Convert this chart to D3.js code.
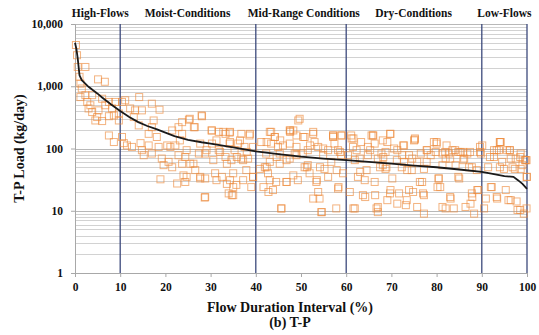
<!DOCTYPE html>
<html>
<head>
<meta charset="utf-8">
<script src="https://cdn.jsdelivr.net/npm/d3@7"></script>
<style>
  body { margin: 0; background: #fff; }
  svg text { font-family: "Liberation Serif", "Times New Roman", serif; font-weight: bold; fill: #111; }
</style>
</head>
<body>
<svg id="chart" width="539" height="335"></svg>
<script>
// flow duration (%) and load (kg/day) of the load duration curve
const curveDuration = [0, 0.3, 0.6, 1, 1.5, 2, 3, 4, 5, 6, 7, 8, 10, 12, 14, 16, 18, 20, 22, 25, 28, 30, 35, 40, 45, 50, 55, 60, 65, 70, 75, 80, 85, 90, 93, 95, 97, 98, 99, 100];
const curveLoad = [5000, 4000, 2800, 1500, 1250, 1150, 980, 860, 760, 660, 580, 510, 400, 320, 265, 230, 205, 180, 158, 138, 126, 120, 104, 90, 81, 74, 69, 65, 61, 57, 53, 50, 46, 42, 38.5, 36, 35, 31, 27, 22.5];

// observed samples: [flow duration %, load kg/day]
const samples = [
  [0.2, 4600], [0.45, 3150], [0.6, 2040], [2.3, 2040], [1.0, 1420], [5.1, 1290], [6.6, 1180],
  [1.5, 920], [2.3, 720], [1.2, 670], [3.8, 720], [6.0, 630], [7.5, 560], [8.9, 560], [10.4, 560],
  [11.1, 595], [14.2, 670], [3.0, 440], [3.8, 385], [5.2, 410], [6.7, 495], [2.7, 560], [4.5, 282],
  [6.0, 276], [7.5, 330], [8.6, 340], [9.7, 365], [12.2, 440], [13.3, 410], [14.8, 410], [13.0, 320],
  [17.0, 525], [18.7, 420], [17.4, 282], [17.0, 220], [16.3, 172], [18.1, 153], [14.1, 235],
  [7.5, 162], [8.6, 127], [10.4, 153], [10.8, 122], [11.5, 112], [12.6, 106], [14.5, 122], [14.8, 94],
  [16.3, 112], [15.2, 78], [17.0, 83], [18.5, 106], [20.4, 112], [21.1, 106], [22.2, 112], [21.5, 195],
  [22.9, 220], [23.7, 265], [25.2, 290], [26.3, 220], [28.1, 330], [23.7, 172], [19.2, 69], [20.7, 61],
  [19.6, 54], [21.5, 50], [22.9, 78], [24.4, 73], [25.5, 57], [23.7, 57], [18.9, 32], [22.6, 27.4],
  [24.4, 29], [24.0, 37], [26.6, 45], [27.7, 35], [28.8, 33], [28.7, 16.3], [27.4, 83], [28.8, 83],
  [30.3, 195], [31.8, 185], [33.3, 172], [30.3, 120], [31.8, 94], [33.3, 73], [31.0, 40], [32.5, 35],
  [33.6, 27], [34.0, 19], [1.2, 1100], [3.4, 495], [8.2, 440], [9.7, 282], [4.9, 320],
  [34.2, 180], [34.2, 120], [34.6, 65], [35.0, 40], [35.0, 17.8], [35.7, 26], [36.8, 172], [38.6, 162],
  [36.1, 120], [37.5, 106], [36.8, 69], [38.3, 69], [37.9, 45], [37.2, 31], [39.4, 35], [39.0, 24],
  [40.9, 47], [41.2, 127], [42.3, 83], [43.4, 185], [44.2, 153], [43.4, 120], [43.1, 61], [42.7, 40],
  [43.8, 21.5], [44.5, 29], [45.6, 10.9], [45.3, 57], [45.3, 83], [46.8, 29], [46.0, 112], [47.5, 195],
  [47.5, 120], [49.0, 162], [49.7, 300], [49.3, 31], [48.6, 83], [50.8, 153], [50.4, 83], [51.5, 54],
  [51.9, 40], [52.7, 172], [53.0, 127], [53.4, 29], [52.7, 15.7], [54.1, 15.7], [54.5, 9.5], [53.8, 20],
  [54.9, 78], [55.2, 47], [56.0, 35], [57.1, 162], [57.4, 120], [56.7, 61], [57.8, 10.9], [58.2, 22.7],
  [58.9, 162], [58.9, 78], [59.3, 40], [61.1, 162], [61.5, 106], [61.9, 10.9], [62.6, 35], [63.3, 127],
  [63.0, 69], [64.1, 31], [63.7, 17.8], [64.8, 78], [65.9, 162], [66.3, 120], [67.0, 11.5], [66.3, 29],
  [68.1, 135], [68.1, 54], [67.8, 83], [67.0, 9.5],
  [35.3, 94], [39.4, 106], [44.9, 106], [47.5, 69], [51.5, 94], [53.8, 106], [56.0, 94], [58.2, 94],
  [60.4, 78], [61.9, 65], [64.8, 106], [67.0, 69], [68.9, 50], [50.8, 50], [42.0, 50],
  [69.8, 172], [69.1, 127], [70.6, 100], [68.7, 88], [68.7, 47], [70.2, 33], [69.8, 21.5], [69.1, 14.8],
  [71.7, 19], [71.3, 13], [72.8, 112], [72.4, 78], [73.5, 45], [73.9, 21.5], [73.2, 12.3], [75.0, 135],
  [74.6, 69], [76.5, 83], [76.8, 29], [75.7, 11.5], [77.2, 9], [77.2, 17.8], [77.9, 94], [79.4, 127],
  [79.8, 88], [80.5, 33], [80.2, 24], [81.3, 54], [81.3, 11.5], [82.0, 10.9], [82.7, 83], [83.1, 15.7],
  [83.8, 10.9], [85.0, 33], [85.3, 88], [86.1, 69], [86.4, 11.5], [87.5, 13], [87.9, 16.6], [88.3, 9],
  [89.0, 21.5], [90.1, 112], [89.8, 83], [90.9, 15.7], [90.5, 10.9], [92.0, 24], [92.7, 73], [94.2, 127],
  [93.8, 94], [93.4, 15.7], [95.6, 94], [95.3, 21.5], [96.4, 69], [96.4, 14.8], [96.8, 50], [97.9, 10.3],
  [98.6, 83], [98.6, 47], [99.3, 9], [99.7, 65], [100, 35], [99.9, 10.9],
  [71.3, 94], [73.9, 78], [75.7, 61], [78.7, 78], [82.0, 69], [83.5, 94], [84.2, 54], [86.8, 83],
  [87.2, 50], [92.7, 94], [94.5, 61], [97.5, 69], [99.0, 54], [94.9, 47], [81.3, 83], [77.2, 47], [72.8, 61],
  [44.2, 153], [47.6, 185], [50.5, 153], [52.7, 185], [57.1, 162], [59.0, 162], [61.2, 145], [65.6, 162],
  [69.7, 172], [72.6, 112], [75.2, 145], [77.8, 94], [80.0, 120], [81.9, 88], [84.1, 94], [85.9, 88],
  [89.6, 106], [91.8, 73], [94.0, 127], [96.2, 94], [98.5, 73], [99.6, 65],
  [75.2, 139], [80.0, 127], [82.2, 112], [94.0, 127], [93.3, 94], [96.2, 94], [99.9, 65], [99.9, 35],
  [97.3, 47], [94.0, 50], [91.4, 50], [89.6, 88], [87.4, 88], [84.8, 88], [84.8, 35], [80.4, 33],
  [80.8, 24], [76.3, 29], [74.8, 20], [77.0, 19], [73.4, 14.8], [83.0, 16.6], [87.8, 19], [89.2, 21.5],
  [92.2, 24], [93.3, 16.6], [95.9, 14.8], [97.7, 14.1], [98.5, 10.3], [72.3, 50], [74.5, 45], [77.8, 61],
  [83.0, 69], [85.9, 65], [87.8, 50], [88.9, 45],
  [48.3, 195], [57.1, 153], [61.6, 145], [66.0, 162], [49.0, 106], [52.0, 112], [54.9, 100], [58.6, 88],
  [62.3, 94], [65.3, 94], [68.2, 73], [71.2, 65], [51.3, 50], [54.2, 50], [57.9, 45], [63.1, 42],
  [64.5, 45], [67.5, 50], [48.3, 37], [53.5, 31], [58.3, 24], [60.8, 20], [64.2, 16.6], [66.4, 17.8],
  [69.7, 19], [54.6, 9.5], [61.6, 10.9], [66.7, 10.9],
  [28.0, 340], [25.4, 300], [26.5, 220], [30.2, 195], [32.8, 185], [34.3, 185], [38.7, 172], [43.1, 185],
  [47.6, 195], [49.4, 282], [23.2, 135], [27.7, 120], [31.3, 135], [34.3, 127], [36.5, 135], [42.4, 127],
  [45.4, 135], [24.7, 94], [29.1, 94], [32.1, 88], [35.8, 73], [38.0, 88], [44.6, 73], [46.8, 65],
  [49.0, 78], [26.2, 57], [30.6, 65], [33.6, 57], [37.2, 65], [42.4, 50], [24.7, 35], [27.7, 33],
  [31.3, 31], [34.3, 31], [39.4, 35], [43.1, 31], [46.8, 29], [35.0, 24], [41.7, 24], [42.8, 20],
  [28.8, 16.6], [34.7, 17.8], [45.7, 10.9]
];

const xTicks = [0, 10, 20, 30, 40, 50, 60, 70, 80, 90, 100];
const yTicks = [1, 10, 100, 1000, 10000];
const zoneBreaks = [10, 40, 60, 90, 100];
const zoneLabels = ['High-Flows', 'Moist-Conditions', 'Mid-Range Conditions', 'Dry-Conditions', 'Low-Flows'];
const zoneLabelAt = [5.6, 24.9, 50.6, 74.9, 95];

const svg = d3.select('#chart');
const x = d3.scaleLinear().domain([0, 100]).range([75, 527]);
const y = d3.scaleLog().domain([1, 10000]).range([273, 24]);

// log gridlines
const gridVals = [];
yTicks.slice(0, -1).forEach((d) => {
    for (let k = 1; k < 10; k++) gridVals.push(d * k);
});
gridVals.push(10000);

svg.append('g').attr('class', 'grid')
    .selectAll('line')
    .data(gridVals.filter(v => v > 1))
    .join('line')
    .attr('x1', x(0)).attr('x2', x(100))
    .attr('y1', d => Math.round(y(d)) + 0.5).attr('y2', d => Math.round(y(d)) + 0.5)
    .attr('stroke', d => (yTicks.includes(d) ? '#b8b8b8' : '#d2d2d2'))
    .attr('stroke-width', 1);

// axes
const yAxis = d3.axisLeft(y).tickValues(yTicks).tickSize(4).tickPadding(8)
    .tickFormat(d3.format(','));
const gy = svg.append('g').attr('transform', `translate(${x(0)},0)`).call(yAxis);
gy.select('.domain').attr('stroke', '#a8a8a8');
gy.selectAll('.tick line').attr('stroke', '#a8a8a8');
gy.selectAll('text').style('font-size', '11.5px').attr('fill', '#111');

const xAxis = d3.axisBottom(x).tickValues(xTicks).tickSize(4).tickPadding(6);
const gx = svg.append('g').attr('transform', `translate(0,${y(1)})`).call(xAxis);
gx.select('.domain').attr('stroke', '#a8a8a8');
gx.selectAll('.tick line').attr('stroke', '#a8a8a8');
gx.selectAll('text').style('font-size', '11.5px').attr('fill', '#111');

// zone dividers
svg.append('g').selectAll('line')
    .data(zoneBreaks)
    .join('line')
    .attr('x1', d => x(d)).attr('x2', d => x(d))
    .attr('y1', y(10000)).attr('y2', y(1))
    .attr('stroke', '#3d4a7c')
    .attr('stroke-width', 1.3);

// samples
const sq = 7;
svg.append('g').selectAll('rect')
    .data(samples)
    .join('rect')
    .attr('x', d => x(d[0]) - sq / 2)
    .attr('y', d => y(d[1]) - sq / 2)
    .attr('width', sq).attr('height', sq)
    .attr('fill', 'none')
    .attr('stroke', '#ec8a3c')
    .attr('stroke-opacity', 0.65)
    .attr('stroke-width', 1);

// load duration curve
const line = d3.line()
    .x((d, i) => x(curveDuration[i]))
    .y(d => y(d));
svg.append('path')
    .datum(curveLoad)
    .attr('d', line)
    .attr('fill', 'none')
    .attr('stroke', '#1a1a1a')
    .attr('stroke-width', 1.8);

// zone labels
svg.append('g').selectAll('text')
    .data(zoneLabels)
    .join('text')
    .attr('x', (d, i) => x(zoneLabelAt[i]))
    .attr('y', 17)
    .attr('text-anchor', 'middle')
    .style('font-size', '11.5px')
    .text(d => d);

// titles
svg.append('text')
    .attr('x', 290).attr('y', 312)
    .attr('text-anchor', 'middle')
    .style('font-size', '14px')
    .text('Flow Duration Interval (%)');

svg.append('text')
    .attr('x', 290).attr('y', 327)
    .attr('text-anchor', 'middle')
    .style('font-size', '14px')
    .text('(b) T-P');

svg.append('text')
    .attr('transform', `translate(24,${(y(1) + y(10000)) / 2}) rotate(-90)`)
    .attr('text-anchor', 'middle')
    .style('font-size', '14px')
    .text('T-P Load (kg/day)');
</script>
</body>
</html>
